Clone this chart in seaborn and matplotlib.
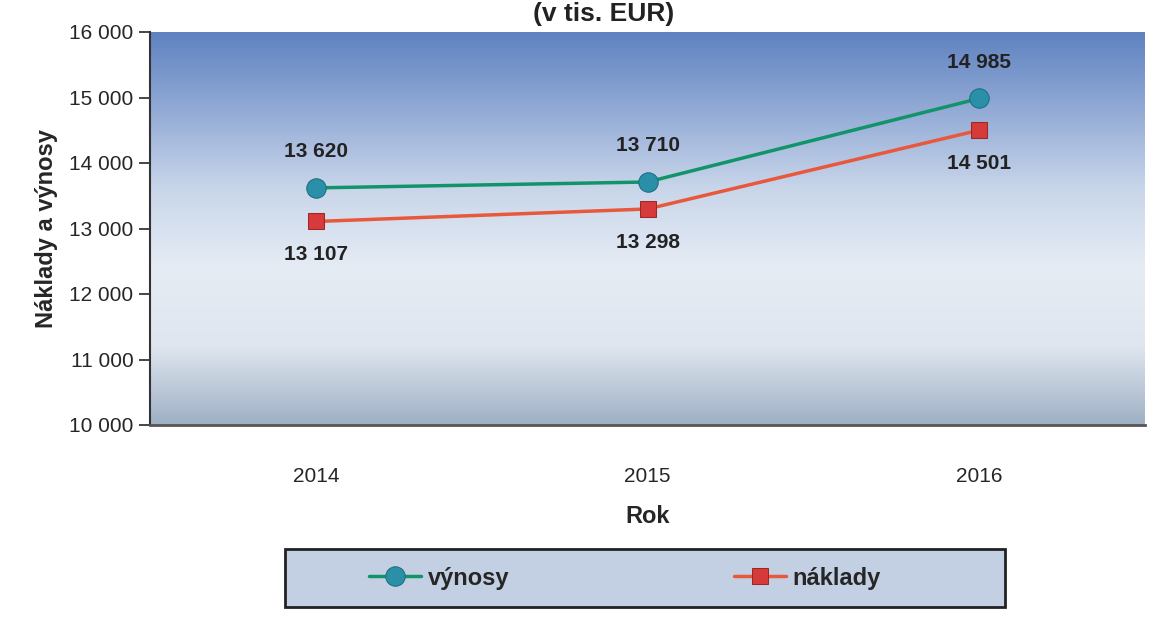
import numpy as np
import pandas as pd
import seaborn as sns
import matplotlib.pyplot as plt
from matplotlib.colors import LinearSegmentedColormap
from matplotlib.patches import Rectangle

# data
years = ["2014", "2015", "2016"]
vynosy = [13620, 13710, 14985]
naklady = [13107, 13298, 14501]

df = pd.DataFrame({
    "Rok": years * 2,
    "value": vynosy + naklady,
    "serie": ["výnosy"] * 3 + ["náklady"] * 3,
})

sns.set_style("white")
plt.rcParams["font.family"] = ["Liberation Sans", "DejaVu Sans"]

fig = plt.figure(figsize=(11.5, 6.17), dpi=100)
ax = fig.add_axes([150 / 1150, 1 - 425 / 617, 995 / 1150, 393 / 617])

# gradient background (blue at top fading to pale at bottom)
cmap = LinearSegmentedColormap.from_list(
    "bg", ["#5f82c0", "#93abd6", "#c9d6ea", "#e6ecf4", "#dfe6ef", "#9fb0c4"])
grad = np.linspace(0, 1, 256).reshape(-1, 1)
ax.imshow(grad, cmap=cmap, aspect="auto", extent=[-0.5, 2.5, 10000, 16000],
          zorder=0, origin="upper")

x = np.arange(len(years))
df["x"] = np.tile(x, 2)

sns.lineplot(data=df[df["serie"] == "výnosy"], x="x", y="value", ax=ax,
             color="#12946a", lw=2.5, marker="o", markersize=14,
             markerfacecolor="#2a8fa8", markeredgecolor="#1c6f7a", zorder=3,
             label="výnosy")
sns.lineplot(data=df[df["serie"] == "náklady"], x="x", y="value", ax=ax,
             color="#e8583c", lw=2.5, marker="s", markersize=12,
             markerfacecolor="#d63a3a", markeredgecolor="#a02626", zorder=3,
             label="náklady")

def fmt(v):
    return f"{v:,}".replace(",", " ")

for i, v in enumerate(vynosy):
    ax.annotate(fmt(v), (i, v), xytext=(0, 26), textcoords="offset points",
                ha="center", va="center", fontsize=15, fontweight="bold",
                color="#222222")
for i, v in enumerate(naklady):
    ax.annotate(fmt(v), (i, v), xytext=(0, -24), textcoords="offset points",
                ha="center", va="center", fontsize=15, fontweight="bold",
                color="#222222")

ax.set_xlim(-0.5, 2.5)
ax.set_ylim(10000, 16000)
ax.set_xticks(x)
ax.set_xticklabels(years)
ax.set_yticks(range(10000, 16001, 1000))
ax.set_yticklabels([fmt(v) for v in range(10000, 16001, 1000)])
ax.tick_params(axis="y", length=8, width=1.2, direction="out", left=True,
               labelsize=15, pad=4)
ax.tick_params(axis="x", length=0, labelsize=15, pad=30)

for s in ["top", "right"]:
    ax.spines[s].set_visible(False)
ax.spines["left"].set_color("#333333")
ax.spines["left"].set_linewidth(1.5)
ax.spines["bottom"].set_color("#555555")
ax.spines["bottom"].set_linewidth(2)

ax.set_xlabel("Rok", fontsize=17, fontweight="bold", labelpad=14)
ax.set_ylabel("Náklady a výnosy", fontsize=17, fontweight="bold", labelpad=8)

fig.text(0.525, 1 - 14 / 617, "(v tis. EUR)", ha="center", va="center",
         fontsize=19, fontweight="bold", color="#222222")

# legend box
fig.patches.append(Rectangle((285 / 1150, 1 - 607 / 617), 720 / 1150, 58 / 617,
                             transform=fig.transFigure, facecolor="#c3d0e3",
                             edgecolor="#222222", linewidth=2))

ax.get_legend().remove()
handles, labels = ax.get_legend_handles_labels()
leg = fig.legend(handles, labels, loc="center",
                 bbox_to_anchor=(625 / 1150, 1 - 578 / 617),
                 ncol=2, fontsize=17, frameon=False,
                 handlelength=2.2, handletextpad=0.3, columnspacing=9.5)
for t in leg.get_texts():
    t.set_fontweight("bold")

fig.savefig("out.png", dpi=100)
